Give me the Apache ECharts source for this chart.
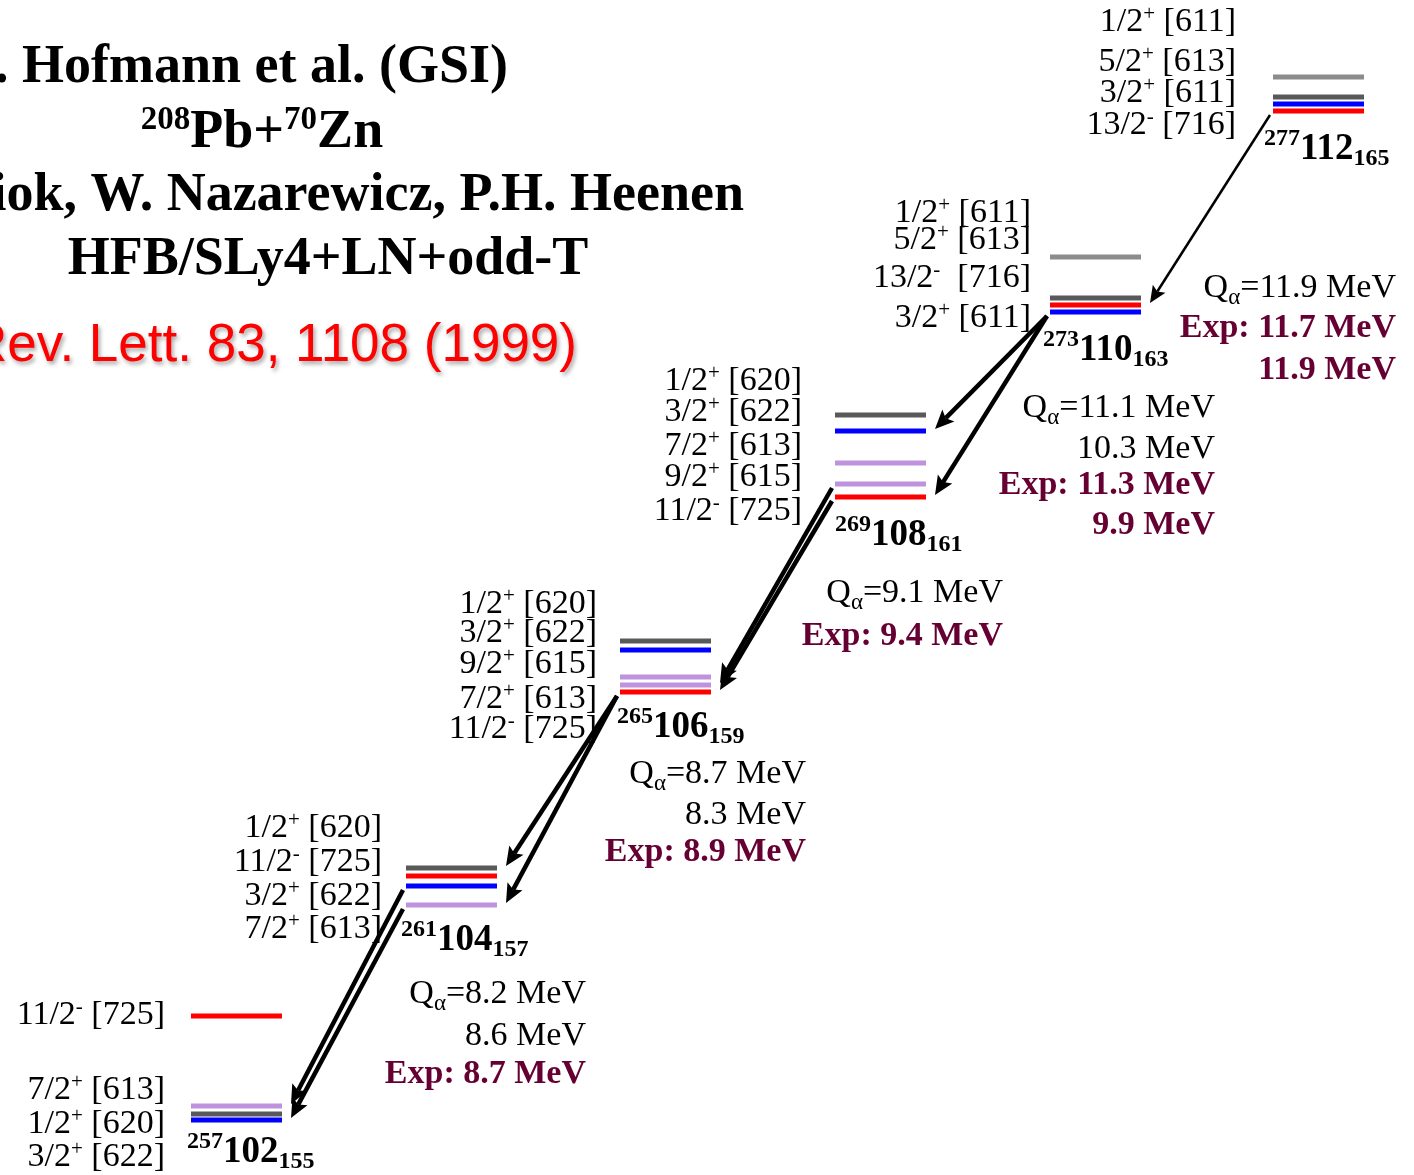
<!DOCTYPE html>
<html>
<head>
<meta charset="utf-8">
<title>Alpha-decay chain of 277-112</title>
<script src="https://cdn.jsdelivr.net/npm/echarts@6/dist/echarts.min.js"></script>
<style>
  html, body { margin: 0; padding: 0; background: #fff; }
  #chart { width: 1414px; height: 1175px; }
</style>
</head>
<body>
<div id="chart"></div>
<script>
'use strict'

/* decay chain, mother first */
var massNumber = ['277', '273', '269', '265', '261', '257'];
var protonNumber = ['112', '110', '108', '106', '104', '102'];
var neutronNumber = ['165', '163', '161', '159', '157', '155'];

/* quasiparticle levels of each nucleus (diagram height, top = high) */
var levelY = [
    [77, 97, 104, 111],
    [257, 298, 305, 312],
    [415, 431, 463, 484, 497],
    [641, 650, 677, 685, 692],
    [868, 876, 886, 905],
    [1016, 1106, 1114, 1120]
];
/* g = light grey, d = dark grey, b = blue, r = red, v = violet */
var levelKind = [
    ['g', 'd', 'b', 'r'],
    ['g', 'd', 'r', 'b'],
    ['d', 'b', 'v', 'v', 'r'],
    ['d', 'b', 'v', 'v', 'r'],
    ['d', 'r', 'b', 'v'],
    ['r', 'v', 'd', 'b']
];

/* Nilsson labels written beside each column */
var orbitals = [
    ['1/2+ [611]', '5/2+ [613]', '3/2+ [611]', '13/2- [716]'],
    ['1/2+ [611]', '5/2+ [613]', '13/2-  [716]', '3/2+ [611]'],
    ['1/2+ [620]', '3/2+ [622]', '7/2+ [613]', '9/2+ [615]', '11/2- [725]'],
    ['1/2+ [620]', '3/2+ [622]', '9/2+ [615]', '7/2+ [613]', '11/2- [725]'],
    ['1/2+ [620]', '11/2- [725]', '3/2+ [622]', '7/2+ [613]'],
    ['11/2- [725]', '7/2+ [613]', '1/2+ [620]', '3/2+ [622]']
];

/* Q-alpha of each decay, MeV: calculated, then experiment */
var qCalc = [['11.9'], ['11.1', '10.3'], ['9.1'], ['8.7', '8.3'], ['8.2', '8.6']];
var qExp = [['11.7', '11.9'], ['11.3', '9.9'], ['9.4'], ['8.9'], ['8.7']];

/* alpha transitions: [mother, level in mother, level in daughter] */
var transitions = [
    [0, 3, 2],
    [1, 3, 1], [1, 3, 4],
    [2, 3, 3], [2, 4, 4],
    [3, 4, 0], [3, 4, 3],
    [4, 2, 1], [4, 3, 3]
];

/* layout of the diagram */
var columnX = [1273, 1050, 835, 620, 406, 191];
var COLUMN_W = 91;
var orbitalRight = [1236, 1031, 802, 597, 382, 165];
var orbitalLabelY = [
    [22, 62, 93, 125],
    [213, 240, 278, 318],
    [381, 412, 446, 477, 511],
    [604, 633, 664, 699, 729],
    [828, 862, 896, 929],
    [1015, 1090, 1124, 1157]
];
var nucleusLabelPos = [[1264, 149], [1043, 350], [835, 535], [617, 727], [401, 940], [187, 1152]];
var qRight = [1396, 1215, 1003, 806, 586];
var qLineY = [[288, 328, 370], [408, 449, 485, 525], [593, 636], [774, 815, 852], [994, 1036, 1074]];

var LEVEL_COLOR = { g: '#8c8c8c', d: '#595959', b: '#0000ff', r: '#ff0000', v: '#bf92dd' };
var SERIF = 'Liberation Serif';
var SANS = 'Liberation Sans';

/* ---------- levels ---------- */
var levelData = [], levelColor = [];
levelY.forEach(function (ys, n) {
    ys.forEach(function (y, k) {
        levelData.push([columnX[n], columnX[n] + COLUMN_W, y]);
        levelColor.push(LEVEL_COLOR[levelKind[n][k]]);
    });
});

function renderLevel(params, api) {
    var a = api.coord([api.value(0), api.value(2)]);
    var b = api.coord([api.value(1), api.value(2)]);
    return {
        type: 'rect',
        shape: { x: a[0], y: a[1] - 2.5, width: b[0] - a[0], height: 5 },
        style: { fill: levelColor[params.dataIndex] }
    };
}

/* ---------- alpha arrows ---------- */
var decayData = transitions.map(function (t) {
    var m = t[0], d = t[0] + 1;
    return [columnX[m] - 3, levelY[m][t[1]] + 4, columnX[d] + COLUMN_W + 9, levelY[d][t[2]] - 2, m];
});

function renderDecay(params, api) {
    var p0 = api.coord([api.value(0), api.value(1)]);
    var p1 = api.coord([api.value(2), api.value(3)]);
    var thin = api.value(4) === 0;
    var lw = thin ? 2.5 : 4.5, len = thin ? 17 : 19, half = thin ? 7.5 : 8.5;
    var dx = p1[0] - p0[0], dy = p1[1] - p0[1];
    var d = Math.sqrt(dx * dx + dy * dy);
    var ux = dx / d, uy = dy / d;
    var bx = p1[0] - ux * len, by = p1[1] - uy * len;
    var notch = [p1[0] - ux * len * 0.8, p1[1] - uy * len * 0.8];
    return {
        type: 'group',
        children: [{
            type: 'line',
            shape: { x1: p0[0], y1: p0[1], x2: notch[0], y2: notch[1] },
            style: { stroke: '#000', lineWidth: lw }
        }, {
            type: 'polygon',
            shape: { points: [p1, [bx - uy * half, by + ux * half], notch, [bx + uy * half, by - ux * half]] },
            style: { fill: '#000' }
        }]
    };
}

/* ---------- texts ---------- */
function richSet(size, weight, fam) {
    return { fontSize: size, fontWeight: weight, fontFamily: fam };
}
var TEXT_STYLE = {
    title: {
        base: { fontSize: 54, fontWeight: 'bold', fontFamily: SERIF, lineHeight: 58, fill: '#000' },
        rich: { sup: Object.assign(richSet(33, 'bold', SERIF), { lineHeight: 33, verticalAlign: 'top' }) }
    },
    ref: {
        base: {
            fontSize: 53, fontFamily: SANS, lineHeight: 58, fill: '#ff0000',
            textShadowColor: 'rgba(0,0,0,0.35)', textShadowBlur: 4, textShadowOffsetX: 2, textShadowOffsetY: 3
        },
        rich: {}
    },
    orbital: {
        base: { fontSize: 34, fontFamily: SERIF, lineHeight: 36, fill: '#000' },
        rich: {
            p: Object.assign(richSet(21, 'normal', SERIF), { lineHeight: 21, verticalAlign: 'top' }),
            m: Object.assign(richSet(21, 'normal', SERIF), { lineHeight: 13, verticalAlign: 'top' })
        }
    },
    nucleus: {
        base: { fontSize: 37, fontWeight: 'bold', fontFamily: SERIF, lineHeight: 44, fill: '#000' },
        rich: {
            sup: Object.assign(richSet(24, 'bold', SERIF), { lineHeight: 24, verticalAlign: 'top' }),
            sub: Object.assign(richSet(24, 'bold', SERIF), { lineHeight: 24, verticalAlign: 'bottom' })
        }
    },
    q: {
        base: { fontSize: 34, fontFamily: SERIF, lineHeight: 42, fill: '#000' },
        rich: { sub: Object.assign(richSet(23, 'normal', SERIF), { lineHeight: 23, verticalAlign: 'bottom' }) }
    },
    exp: {
        base: { fontSize: 34, fontWeight: 'bold', fontFamily: SERIF, lineHeight: 42, fill: '#660033' },
        rich: {}
    }
};

var texts = [];
function addText(x, y, text, kind, align) {
    texts.push({ x: x, y: y, text: text, kind: kind, align: align });
}

addText(508, 68, 'S. Hofmann et al. (GSI)', 'title', 'right');
addText(262, 133, '{sup|208}Pb+{sup|70}Zn', 'title', 'center');
addText(744, 196, 'S. Ćwiok, W. Nazarewicz, P.H. Heenen', 'title', 'right');
addText(328, 260, 'HFB/SLy4+LN+odd-T', 'title', 'center');
addText(577, 346, 'Phys. Rev. Lett. 83, 1108 (1999)', 'ref', 'right');

orbitals.forEach(function (list, n) {
    list.forEach(function (s, k) {
        var t = s.replace(/^(\d+\/2)([+-])/, function (all, j, p) {
            return j + (p === '+' ? '{p|+}' : '{m|-}');
        });
        addText(orbitalRight[n], orbitalLabelY[n][k], t, 'orbital', 'right');
    });
});

massNumber.forEach(function (a, n) {
    addText(nucleusLabelPos[n][0], nucleusLabelPos[n][1],
        '{sup|' + a + '}' + protonNumber[n] + '{sub|' + neutronNumber[n] + '}', 'nucleus', 'left');
});

qCalc.forEach(function (calc, n) {
    var row = 0;
    calc.forEach(function (v, k) {
        addText(qRight[n], qLineY[n][row++], (k === 0 ? 'Q{sub|α}=' : '') + v + ' MeV', 'q', 'right');
    });
    qExp[n].forEach(function (v, k) {
        addText(qRight[n], qLineY[n][row++], (k === 0 ? 'Exp: ' : '') + v + ' MeV', 'exp', 'right');
    });
});

function renderText(params, api) {
    var t = texts[params.dataIndex];
    var p = api.coord([api.value(0), api.value(1)]);
    var st = TEXT_STYLE[t.kind];
    var style = Object.assign({}, st.base, {
        text: t.text, rich: st.rich, align: t.align, verticalAlign: 'middle'
    });
    return { type: 'text', x: p[0], y: p[1], style: style };
}

/* ---------- chart ---------- */
var chart = document.getElementById('chart');
var levelChart = echarts.init(chart);

levelChart.setOption({
    animation: false,
    backgroundColor: '#ffffff',
    grid: { left: 0, right: 0, top: 0, bottom: 0 },
    xAxis: { type: 'value', min: 0, max: 1414, show: false },
    yAxis: { type: 'value', min: 0, max: 1175, inverse: true, show: false },
    series: [{
        name: 'Levels',
        type: 'custom',
        silent: true,
        renderItem: renderLevel,
        data: levelData
    }, {
        name: 'Alpha decays',
        type: 'custom',
        silent: true,
        renderItem: renderDecay,
        data: decayData
    }, {
        name: 'Labels',
        type: 'custom',
        silent: true,
        renderItem: renderText,
        data: texts.map(function (t) { return [t.x, t.y]; })
    }]
});
</script>
</body>
</html>
